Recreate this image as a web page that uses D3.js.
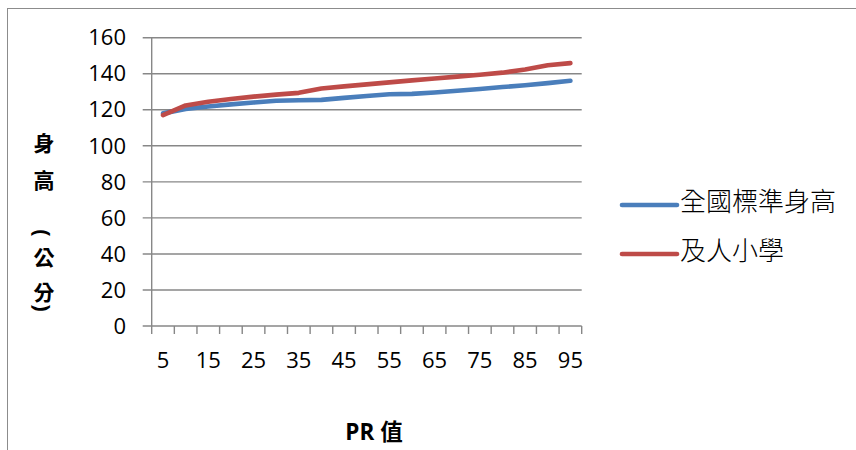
<!DOCTYPE html>
<html>
<head>
<meta charset="utf-8">
<script src="https://cdn.jsdelivr.net/npm/d3@7"></script>
<style>
  html, body { margin: 0; padding: 0; background: #fff; }
  svg { display: block; }
</style>
</head>
<body>
<svg id="chart" width="856" height="450"></svg>
<script>
// PR percentile categories
const prValues = [5, 10, 15, 20, 25, 30, 35, 40, 45, 50, 55, 60, 65, 70, 75, 80, 85, 90, 95];
// Height (cm) per percentile
const nationalHeights = [118, 120.5, 121.8, 123, 124, 125, 125.3, 125.5, 126.6, 127.6, 128.6, 128.8, 129.6, 130.6, 131.5, 132.6, 133.6, 134.8, 136.1];
const schoolHeights = [117, 122.4, 124.5, 126, 127.3, 128.4, 129.4, 131.8, 133, 134.1, 135.2, 136.3, 137.4, 138.4, 139.4, 140.6, 142.3, 144.7, 145.9];
const seriesNames = ["全國標準身高", "及人小學"];
const yTicks = [0, 20, 40, 60, 80, 100, 120, 140, 160];
const xTickLabels = [5, 15, 25, 35, 45, 55, 65, 75, 85, 95];
// vertical title: characters plus rotated brackets
const yTitleChars = ["身", "高", "(", "公", "分", ")"];

const colors = ["#4a7ebb", "#be4b48"];
const gridColor = "#878787";
const numFont = "'Open Sans', 'Liberation Sans', sans-serif";
const cjkFont = "'Noto Sans CJK TC', 'Noto Sans CJK SC', sans-serif";

const svg = d3.select("#chart");

// outer chart frame
svg.append("rect")
  .attr("x", 7.5).attr("y", 8.5)
  .attr("width", 900).attr("height", 500)
  .attr("fill", "none")
  .attr("stroke", "#8c8c8c")
  .attr("stroke-width", 1);

const plot = { left: 151.7, right: 581.7, top: 37.7, bottom: 326 };

const x = d3.scaleBand()
  .domain(prValues)
  .range([plot.left, plot.right])
  .padding(0);

const y = d3.scaleLinear()
  .domain([0, 160])
  .range([plot.bottom, plot.top]);

// horizontal gridlines (extend left through the tick marks)
svg.append("g")
  .selectAll("line")
  .data(yTicks)
  .join("line")
  .attr("x1", plot.left - 9)
  .attr("x2", plot.right)
  .attr("y1", d => y(d))
  .attr("y2", d => y(d))
  .attr("stroke", gridColor)
  .attr("stroke-width", 1.4);

// y axis line
svg.append("line")
  .attr("x1", plot.left).attr("x2", plot.left)
  .attr("y1", plot.top).attr("y2", plot.bottom)
  .attr("stroke", gridColor)
  .attr("stroke-width", 1.4);

// x axis tick marks at category boundaries
const boundaries = prValues.map(d => x(d)).concat([x(prValues[prValues.length - 1]) + x.bandwidth()]);
svg.append("g")
  .selectAll("line")
  .data(boundaries)
  .join("line")
  .attr("x1", d => d).attr("x2", d => d)
  .attr("y1", plot.bottom).attr("y2", plot.bottom + 8)
  .attr("stroke", gridColor)
  .attr("stroke-width", 1.4);

// y tick labels
svg.append("g")
  .selectAll("text")
  .data(yTicks)
  .join("text")
  .attr("x", 126)
  .attr("y", d => y(d))
  .attr("dy", "0.35em")
  .attr("text-anchor", "end")
  .attr("font-family", numFont)
  .attr("font-size", 22)
  .attr("fill", "#000")
  .text(d => d);

// x tick labels
svg.append("g")
  .selectAll("text")
  .data(xTickLabels)
  .join("text")
  .attr("x", d => x(d) + x.bandwidth() / 2)
  .attr("y", 360.5)
  .attr("dy", "0.35em")
  .attr("text-anchor", "middle")
  .attr("font-family", numFont)
  .attr("font-size", 22)
  .attr("fill", "#000")
  .text(d => d);

// series lines
const line = d3.line()
  .x((d, i) => x(prValues[i]) + x.bandwidth() / 2)
  .y(d => y(d));

[nationalHeights, schoolHeights].forEach((vals, k) => {
  svg.append("path")
    .datum(vals)
    .attr("d", line)
    .attr("fill", "none")
    .attr("stroke", colors[k])
    .attr("stroke-width", 4.6)
    .attr("stroke-linecap", "round")
    .attr("stroke-linejoin", "round");
});

// y axis title, stacked vertically; brackets turned a quarter turn
const yTitleY = [142, 179, 233, 256, 291, 308];
const titleX = 44;
svg.append("g")
  .selectAll("text")
  .data(yTitleChars)
  .join("text")
  .attr("text-anchor", "middle")
  .attr("dominant-baseline", "central")
  .attr("transform", (d, i) => {
    const isBracket = d === "(" || d === ")";
    return `translate(${titleX},${yTitleY[i]})` + (isBracket ? " rotate(90)" : "");
  })
  .attr("font-family", d => (d === "(" || d === ")") ? numFont : cjkFont)
  .attr("font-weight", 700)
  .attr("font-size", d => (d === "(" || d === ")") ? 22 : 21)
  .attr("fill", "#000")
  .text(d => d);

// x axis title
svg.append("text")
  .attr("x", 374)
  .attr("y", 432)
  .attr("dy", "0.35em")
  .attr("text-anchor", "middle")
  .attr("font-family", numFont)
  .attr("font-weight", 700)
  .attr("font-size", 22.5)
  .attr("fill", "#000")
  .call(t => {
    t.append("tspan").text("PR ");
    t.append("tspan").attr("font-family", cjkFont).text("值");
  });

// legend
const legendY = [205, 254];
const legend = svg.append("g")
  .selectAll("g")
  .data(seriesNames)
  .join("g");

legend.append("line")
  .attr("x1", 622).attr("x2", 677)
  .attr("y1", (d, i) => legendY[i]).attr("y2", (d, i) => legendY[i])
  .attr("stroke", (d, i) => colors[i])
  .attr("stroke-width", 4.6)
  .attr("stroke-linecap", "round");

legend.append("text")
  .attr("x", 680)
  .attr("y", (d, i) => legendY[i] - 3.5)
  .attr("dy", "0.36em")
  .attr("font-family", cjkFont)
  .attr("font-weight", 300)
  .attr("font-size", 26)
  .attr("fill", "#000")
  .text(d => d);
</script>
</body>
</html>
